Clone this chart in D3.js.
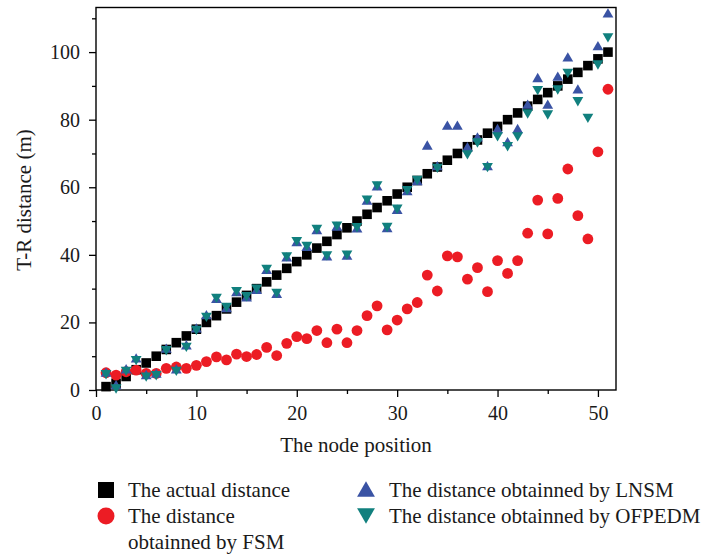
<!DOCTYPE html>
<html>
<head>
<meta charset="utf-8">
<script src="https://cdn.jsdelivr.net/npm/d3@7"></script>
<style>
  html, body { margin: 0; padding: 0; background: #fff; }
  svg { display: block; }
  text { font-family: "Liberation Serif", "DejaVu Serif", serif; fill: #1a1a1a; }
</style>
</head>
<body>
<svg id="chart" width="703" height="556"></svg>
<script>
// ---- data ----
const nodePositions = [1,2,3,4,5,6,7,8,9,10,11,12,13,14,15,16,17,18,19,20,21,22,23,24,25,26,27,28,29,30,31,32,33,34,35,36,37,38,39,40,41,42,43,44,45,46,47,48,49,50,51];
const actualDistance = [1,2,4,6,8,10,12,14,16,18,20,22,24,26,28,30,32,34,36,38,40,42,44,46,48,50,52,54,56,58,60,62,64,66,68,70,72,74,76,78,80,82,84,86,88,90,92,94,96,98,100];
const fsmDistance = [5.1,4.4,5.4,5.9,4.9,4.9,6.4,6.8,6.4,7.3,8.4,9.8,8.9,10.6,9.9,10.5,12.6,10.2,13.8,15.8,15.2,17.6,14.0,18.0,14.0,17.6,22.0,24.9,17.8,20.7,24.0,25.9,34.0,29.3,39.7,39.4,32.8,36.2,29.1,38.3,34.5,38.3,46.4,56.2,46.2,56.7,65.4,51.6,44.7,70.5,89.0];
const lnsmDistance = [5.3,1.6,6.3,9.5,4.6,5.0,12.4,6.3,13.4,18.4,22.3,27.1,24.4,29.1,27.6,29.8,35.7,28.6,39.4,43.9,42.5,47.5,39.7,48.5,39.9,48.0,56.2,60.4,48.1,53.5,59.0,62.0,72.5,66.4,78.4,78.4,72.0,74.9,66.4,77.4,73.5,77.4,84.6,92.5,84.6,92.9,98.6,89.1,null,101.9,111.6];
const ofpedmDistance = [4.5,0.3,5.5,8.7,3.8,4.2,11.6,5.5,12.6,17.6,21.5,27.1,24.4,29.1,27.6,29.8,35.7,28.6,39.4,43.9,42.5,47.5,39.7,48.5,39.9,48.0,56.2,60.4,48.1,53.5,59.0,62.0,null,65.6,null,null,69.6,73.1,65.8,74.9,72.0,74.9,81.7,88.6,81.4,88.8,93.7,85.3,80.4,96.2,104.2];
const xTicks = [0,10,20,30,40,50];
const xMinorTicks = [5,15,25,35,45];
const yTicks = [0,20,40,60,80,100];
const yMinorTicks = [10,30,50,70,90,110];
const legendLabels = [
  ["The actual distance"],
  ["The distance", "obtainned by FSM"],
  ["The distance obtainned by LNSM"],
  ["The distance obtainned by OFPEDM"]
];
const colors = { actual: "#000000", fsm: "#ec1c24", lnsm: "#3a53a4", ofpedm: "#11807e" };

// ---- layout ----
const svg = d3.select("#chart");
const pLeft = 96, pRight = 616, pTop = 7.5, pBottom = 390;
const x = d3.scaleLinear().domain([0, 51.8]).range([pLeft, pRight]);
const y = d3.scaleLinear().domain([0, 113.2]).range([pBottom, pTop]);

// custom bbox-centred triangles
const triUp = { draw(ctx, size) { const w = Math.sqrt(size) * 1.15, h = Math.sqrt(size); ctx.moveTo(0, -h/2); ctx.lineTo(w/2, h/2); ctx.lineTo(-w/2, h/2); ctx.closePath(); } };
const triDown = { draw(ctx, size) { const w = Math.sqrt(size) * 1.15, h = Math.sqrt(size); ctx.moveTo(0, h/2); ctx.lineTo(w/2, -h/2); ctx.lineTo(-w/2, -h/2); ctx.closePath(); } };

// axes
const fontSize = 20;
const gx = svg.append("g").attr("transform", `translate(0,${pBottom})`)
  .call(d3.axisBottom(x).tickValues(xTicks).tickSize(7).tickPadding(9).tickSizeOuter(0));
const gxm = svg.append("g").attr("transform", `translate(0,${pBottom})`)
  .call(d3.axisBottom(x).tickValues(xMinorTicks).tickSize(4).tickFormat("").tickSizeOuter(0));
const gy = svg.append("g").attr("transform", `translate(${pLeft},0)`)
  .call(d3.axisLeft(y).tickValues(yTicks).tickSize(7).tickPadding(9).tickSizeOuter(0));
const gym = svg.append("g").attr("transform", `translate(${pLeft},0)`)
  .call(d3.axisLeft(y).tickValues(yMinorTicks).tickSize(4).tickFormat("").tickSizeOuter(0));
[gx, gxm, gy, gym].forEach(g => {
  g.select(".domain").remove();
  g.selectAll(".tick line").attr("stroke", "#000").attr("stroke-width", 1.3);
  g.selectAll(".tick text").style("font-family", '"Liberation Serif", serif').style("font-size", fontSize + "px").attr("fill", "#1a1a1a");
});

// frame
svg.append("rect").attr("x", pLeft).attr("y", pTop).attr("width", pRight - pLeft).attr("height", pBottom - pTop)
  .attr("fill", "none").attr("stroke", "#000").attr("stroke-width", 1.4);

// axis titles
svg.append("text").attr("x", (pLeft + pRight) / 2).attr("y", 452).attr("text-anchor", "middle")
  .style("font-size", "21px").text("The node position");
svg.append("text").attr("transform", "translate(31,200) rotate(-90)").attr("text-anchor", "middle")
  .style("font-size", "21px").text("T-R distance (m)");

// marks
const plot = svg.append("g");
const pts = (vals) => nodePositions.map((n, i) => ({ n, v: vals[i] })).filter(d => d.v !== null);

plot.append("g").selectAll("path").data(pts(actualDistance)).join("path")
  .attr("transform", d => `translate(${x(d.n)},${y(d.v)})`)
  .attr("d", d3.symbol().type(d3.symbolSquare).size(92))
  .attr("fill", colors.actual);

plot.append("g").selectAll("circle").data(pts(fsmDistance)).join("circle")
  .attr("cx", d => x(d.n)).attr("cy", d => y(d.v)).attr("r", 5.4)
  .attr("fill", colors.fsm);

plot.append("g").selectAll("path").data(pts(lnsmDistance)).join("path")
  .attr("transform", d => `translate(${x(d.n)},${y(d.v)})`)
  .attr("d", d3.symbol().type(triUp).size(88))
  .attr("fill", colors.lnsm);

plot.append("g").selectAll("path").data(pts(ofpedmDistance)).join("path")
  .attr("transform", d => `translate(${x(d.n)},${y(d.v)})`)
  .attr("d", d3.symbol().type(triDown).size(88))
  .attr("fill", colors.ofpedm);

// legend
const leg = svg.append("g");
const legFont = "21px";
leg.append("path").attr("transform", "translate(106,490)")
  .attr("d", d3.symbol().type(d3.symbolSquare).size(256)).attr("fill", colors.actual);
leg.append("text").attr("x", 128).attr("y", 497).style("font-size", legFont).text(legendLabels[0][0]);

leg.append("circle").attr("cx", 106).attr("cy", 516).attr("r", 8.5).attr("fill", colors.fsm);
leg.append("text").attr("x", 128).attr("y", 523).style("font-size", legFont).text(legendLabels[1][0]);
leg.append("text").attr("x", 128).attr("y", 549).style("font-size", legFont).text(legendLabels[1][1]);

leg.append("path").attr("transform", "translate(366,489)")
  .attr("d", d3.symbol().type(triUp).size(240)).attr("fill", colors.lnsm);
leg.append("text").attr("x", 389).attr("y", 497).style("font-size", legFont).text(legendLabels[2][0]);

leg.append("path").attr("transform", "translate(366,516)")
  .attr("d", d3.symbol().type(triDown).size(240)).attr("fill", colors.ofpedm);
leg.append("text").attr("x", 389).attr("y", 523).style("font-size", legFont).text(legendLabels[3][0]);
</script>
</body>
</html>
